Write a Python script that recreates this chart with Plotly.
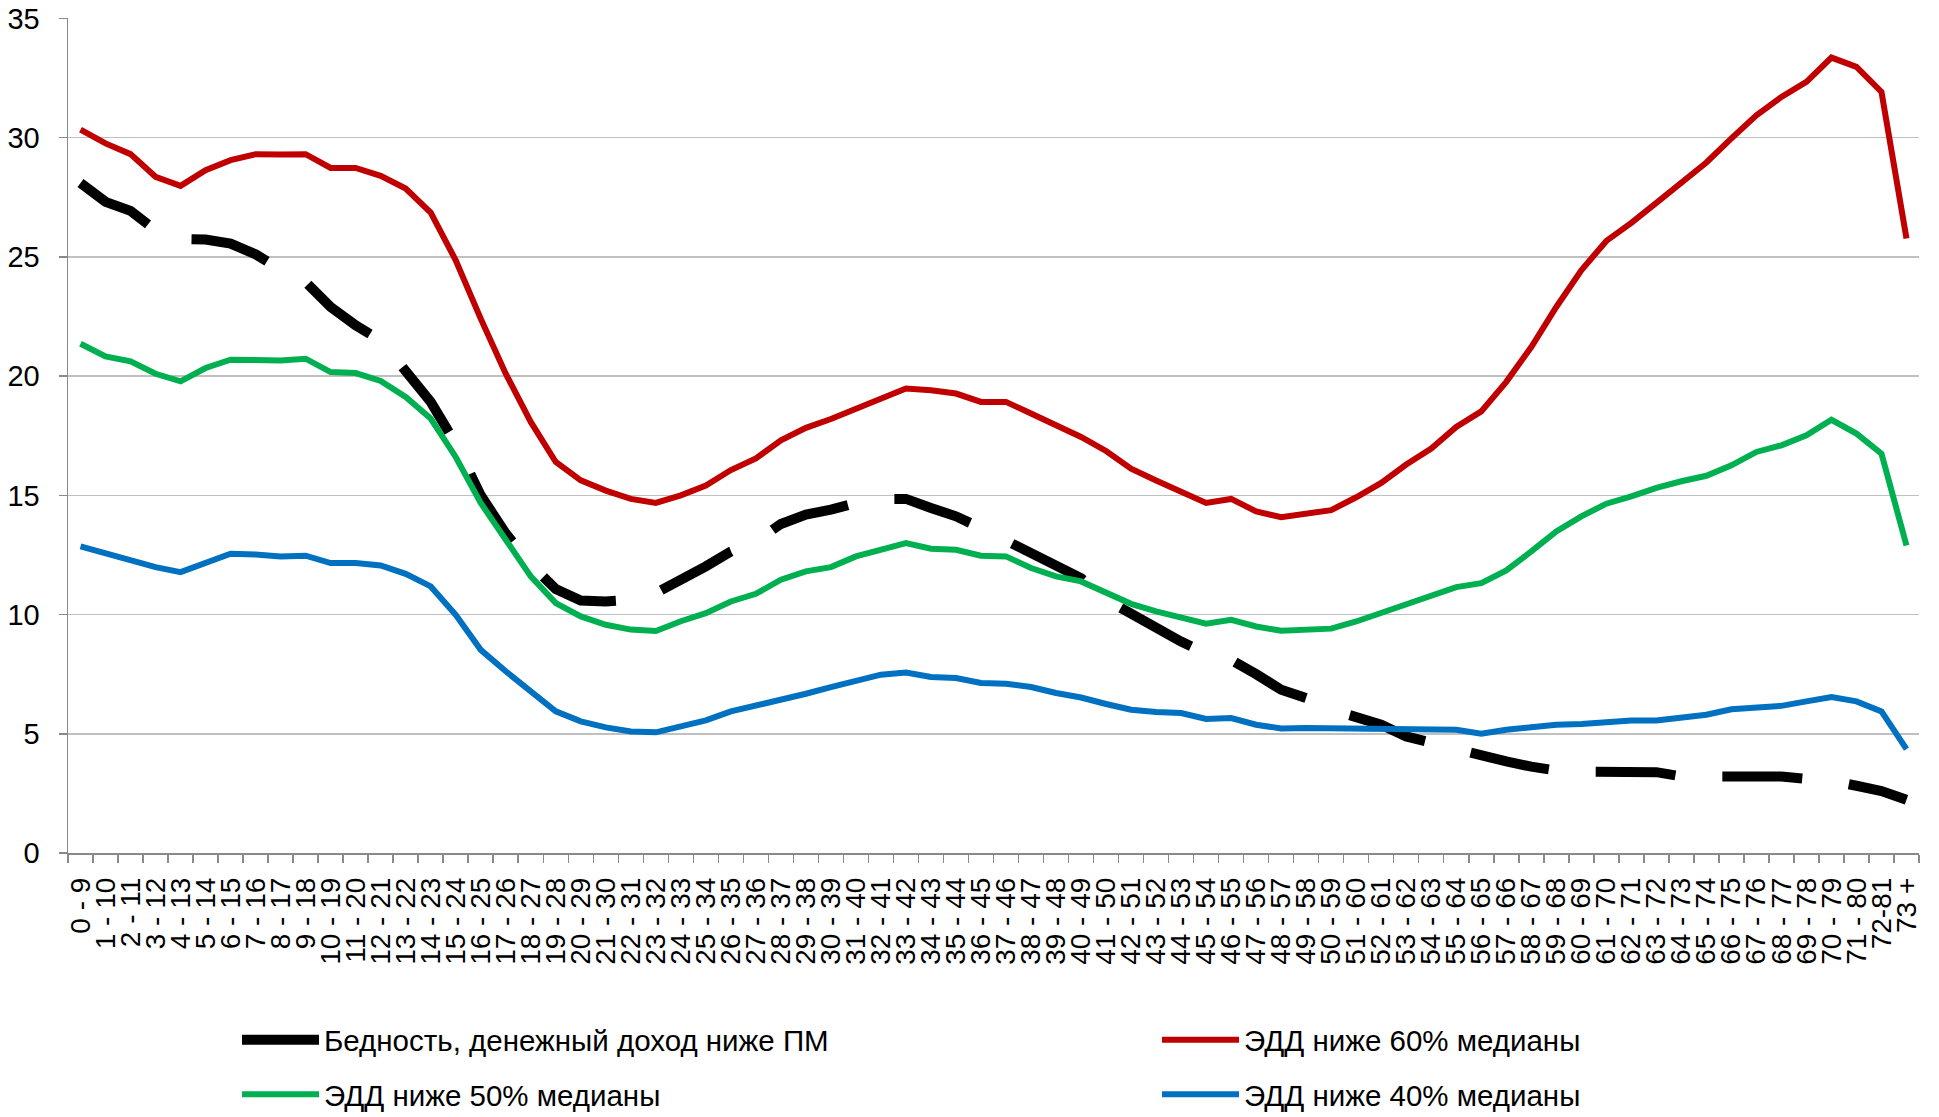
import plotly.graph_objects as go

categories = [
    "0 - 9", "1 - 10", "2 - 11", "3 - 12", "4 - 13", "5 - 14", "6 - 15", "7 - 16", "8 - 17", "9 - 18",
    "10 - 19", "11 - 20", "12 - 21", "13 - 22", "14 - 23", "15 - 24", "16 - 25", "17 - 26", "18 - 27", "19 - 28",
    "20 - 29", "21 - 30", "22 - 31", "23 - 32", "24 - 33", "25 - 34", "26 - 35", "27 - 36", "28 - 37", "29 - 38",
    "30 - 39", "31 - 40", "32 - 41", "33 - 42", "34 - 43", "35 - 44", "36 - 45", "37 - 46", "38 - 47", "39 - 48",
    "40 - 49", "41 - 50", "42 - 51", "43 - 52", "44 - 53", "45 - 54", "46 - 55", "47 - 56", "48 - 57", "49 - 58",
    "50 - 59", "51 - 60", "52 - 61", "53 - 62", "54 - 63", "55 - 64", "56 - 65", "57 - 66", "58 - 67", "59 - 68",
    "60 - 69", "61 - 70", "62 - 71", "63 - 72", "64 - 73", "65 - 74", "66 - 75", "67 - 76", "68 - 77", "69 - 78",
    "70 - 79", "71 - 80", "72-81", "73 +",
]

poverty = [
    28.10, 27.31, 26.93, 26.12, 25.75, 25.73, 25.56, 25.11, 24.47, 23.95,
    22.90, 22.13, 21.50, 20.24, 18.92, 17.17, 15.00, 13.40, 12.10, 11.07,
    10.59, 10.55, 10.62, 10.90, 11.43, 12.02, 12.65, 13.07, 13.80, 14.19,
    14.40, 14.68, 14.85, 14.85, 14.47, 14.12, 13.63, 13.10, 12.58, 12.02,
    11.53, 10.62, 10.00, 9.43, 8.87, 8.38, 8.10, 7.50, 6.85, 6.50,
    6.01, 5.70, 5.38, 4.89, 4.61, 4.33, 4.05, 3.84, 3.62, 3.46,
    3.41, 3.40, 3.42, 3.39, 3.21, 3.21, 3.22, 3.28, 3.21, 3.11,
    3.03, 2.82, 2.60, 2.23,
]

edd60 = [
    30.34, 29.76, 29.31, 28.36, 27.98, 28.64, 29.06, 29.31, 29.29, 29.31,
    28.73, 28.73, 28.40, 27.87, 26.86, 24.86, 22.41, 20.10, 18.08, 16.40,
    15.63, 15.20, 14.85, 14.68, 15.00, 15.41, 16.06, 16.55, 17.31, 17.83,
    18.20, 18.62, 19.06, 19.48, 19.41, 19.27, 18.92, 18.92, 18.43, 17.94,
    17.45, 16.86, 16.12, 15.62, 15.18, 14.68, 14.85, 14.33, 14.08, 14.20,
    14.38, 14.92, 15.52, 16.29, 16.96, 17.87, 18.52, 19.76, 21.22, 22.90,
    24.44, 25.67, 26.43, 27.27, 28.08, 28.96, 29.97, 30.94, 31.71, 32.34,
    33.36, 32.97, 31.92, 25.77,
]

edd50 = [
    21.36, 20.83, 20.62, 20.10, 19.78, 20.34, 20.69, 20.69, 20.66, 20.73,
    20.17, 20.13, 19.80, 19.13, 18.22, 16.61, 14.68, 13.14, 11.60, 10.48,
    9.92, 9.57, 9.37, 9.31, 9.72, 10.06, 10.55, 10.87, 11.46, 11.81,
    11.99, 12.44, 12.75, 13.00, 12.76, 12.72, 12.47, 12.44, 11.95, 11.60,
    11.39, 10.93, 10.45, 10.13, 9.88, 9.62, 9.78, 9.50, 9.32, 9.38,
    9.41, 9.71, 10.06, 10.45, 10.76, 11.15, 11.32, 11.85, 12.65, 13.49,
    14.12, 14.65, 14.96, 15.31, 15.59, 15.82, 16.26, 16.82, 17.10, 17.52,
    18.17, 17.59, 16.75, 12.90,
]

edd40 = [
    12.86, 12.58, 12.30, 11.99, 11.78, 12.16, 12.55, 12.52, 12.44, 12.47,
    12.16, 12.16, 12.06, 11.71, 11.18, 9.99, 8.52, 7.62, 6.78, 5.94,
    5.52, 5.27, 5.10, 5.06, 5.31, 5.56, 5.94, 6.17, 6.45, 6.68,
    6.96, 7.24, 7.48, 7.57, 7.38, 7.34, 7.13, 7.10, 6.96, 6.71,
    6.52, 6.25, 6.01, 5.91, 5.87, 5.62, 5.66, 5.38, 5.22, 5.24,
    5.22, 5.24, 5.24, 5.17, 5.14, 5.17, 5.00, 5.17, 5.27, 5.38,
    5.41, 5.48, 5.56, 5.56, 5.66, 5.80, 6.03, 6.10, 6.17, 6.36,
    6.54, 6.36, 5.94, 4.36,
]

y_ticks = [0, 5, 10, 15, 20, 25, 30, 35]

series_names = [
    "Бедность, денежный доход ниже ПМ",
    "ЭДД ниже 60% медианы",
    "ЭДД ниже 50% медианы",
    "ЭДД ниже 40% медианы",
]

FONT = "Liberation Sans, Arial, sans-serif"
AXIS_COLOR = "#898989"
GRID_COLOR = "#C0C0C0"

fig = go.Figure()
fig.add_trace(go.Scatter(x=categories, y=poverty, mode="lines", name=series_names[0],
                         line=dict(color="#000000", width=10, dash="80px,47px"), legend="legend"))
fig.add_trace(go.Scatter(x=categories, y=edd60, mode="lines", name=series_names[1],
                         line=dict(color="#C00000", width=6), legend="legend2"))
fig.add_trace(go.Scatter(x=categories, y=edd50, mode="lines", name=series_names[2],
                         line=dict(color="#00B050", width=6), legend="legend3"))
fig.add_trace(go.Scatter(x=categories, y=edd40, mode="lines", name=series_names[3],
                         line=dict(color="#0070C0", width=6), legend="legend4"))

W, H = 1939, 1117
ml, mr, mt, mb = 68, 20, 18, 264
plot_h = H - mt - mb
plot_w = W - ml - mr
ITEM_W = 77

def leg(symbol_x, center_y):
    return dict(orientation="h", itemwidth=ITEM_W,
                x=(symbol_x - 5 - ml) / plot_w, xanchor="left",
                y=(H - mb - center_y) / plot_h, yanchor="middle",
                font=dict(family=FONT, size=29.5, color="#000000"),
                bgcolor="rgba(0,0,0,0)", borderwidth=0)

fig.update_layout(
    template="none",
    width=W, height=H,
    margin=dict(l=ml, r=mr, t=mt, b=mb, pad=0, autoexpand=False),
    paper_bgcolor="#FFFFFF", plot_bgcolor="#FFFFFF",
    font=dict(family=FONT, size=29, color="#000000"),
    showlegend=True,
    hovermode=False,
    legend=leg(242, 1040),
    legend2=leg(1162, 1040),
    legend3=leg(242, 1094.5),
    legend4=leg(1162, 1094.5),
    xaxis=dict(
        type="category", range=[-0.5, len(categories) - 0.5],
        tickmode="array", tickvals=categories, ticktext=categories,
        tickangle=-90, tickson="boundaries", ticks="outside", ticklen=8,
        tickcolor=AXIS_COLOR, tickwidth=1.5,
        showline=True, linecolor=AXIS_COLOR, linewidth=1.5,
        showgrid=False, zeroline=False, automargin=False,
        tickfont=dict(family=FONT, size=28, color="#000000"),
        ticklabelstandoff=12,
    ),
    yaxis=dict(
        range=[0, 35.02], tickmode="array", tickvals=y_ticks,
        ticks="outside", ticklen=8, tickcolor=AXIS_COLOR, tickwidth=1.5,
        showline=True, linecolor=AXIS_COLOR, linewidth=1.5,
        showgrid=True, gridcolor=GRID_COLOR, gridwidth=1.5,
        zeroline=False, automargin=False,
        tickfont=dict(family=FONT, size=29, color="#000000"),
        ticklabelstandoff=13,
    ),
)

fig.write_html(
    "out.html",
    config={"displayModeBar": False, "staticPlot": True},
    post_script="document.body.style.margin='0';document.body.style.overflow='hidden';",
)
